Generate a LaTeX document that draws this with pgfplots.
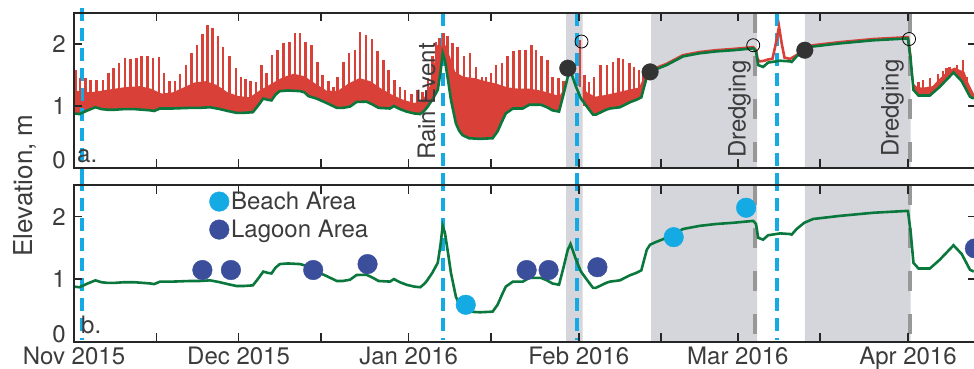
\documentclass[border=0pt]{standalone}
\usepackage{fontspec}
\setmainfont{TeX Gyre Heros}
\usepackage{pgfplots}
\pgfplotsset{compat=1.18}
\usepgfplotslibrary{fillbetween}
\usepackage{pgfplotstable}

\definecolor{tred}{RGB}{216,64,56}
\definecolor{tgreen}{RGB}{10,120,60}
\definecolor{lblue}{RGB}{20,170,228}
\definecolor{shade}{RGB}{212,214,220}
\definecolor{dgray}{RGB}{152,152,152}
\definecolor{dotc}{RGB}{51,51,51}
\definecolor{navy}{RGB}{58,78,156}
\definecolor{txt}{RGB}{60,60,60}
\definecolor{axcol}{RGB}{38,38,38}

\pgfplotstableread{
d v
0 0.88
1.0 0.87
2.5 0.93
3.9 0.98
5.0 0.95
6.1 0.94
7.5 0.94
9.1 0.95
11 0.95
12.5 0.94
13.9 0.93
14.6 0.92
15.7 0.96
18 0.96
21.2 0.97
23 0.97
24.8 0.98
26.6 0.95
28 0.92
29.6 0.89
31 0.89
32.6 0.90
33.5 1.00
34.5 1.12
35.3 1.10
36.0 1.09
36.7 1.18
37.5 1.24
39 1.25
41.2 1.24
42.0 1.22
42.7 1.16
44.2 1.12
46 1.05
47.9 0.97
49 0.97
50.3 0.99
51.5 1.065
53.3 1.07
54.5 1.02
55.5 0.97
57.6 0.96
58.3 1.00
59.4 0.95
60.6 0.91
62 0.88
63.1 0.87
63.8 0.92
64.3 0.97
65.3 1.10
66.3 1.26
66.8 1.55
67.2 1.85
67.6 1.74
68.2 1.40
68.7 1.10
69.6 0.72
70.2 0.60
70.8 0.53
72 0.48
74 0.47
76.3 0.48
77.2 0.59
78.0 0.75
78.7 0.88
80.0 0.96
81.8 0.96
82.4 0.99
83 1.02
85.1 1.02
86.2 0.98
87.2 0.93
88.4 0.91
89.2 1.18
90.0 1.47
90.5 1.56
91.5 1.31
92.4 1.12
93.9 0.94
94.6 0.86
95.1 0.86
97.0 0.94
97.7 0.96
99.5 0.98
101.3 1.06
102.5 1.10
103.4 1.14
104.4 1.47
105 1.55
106 1.59
108.0 1.66
111.0 1.80
114 1.85
117 1.88
120.2 1.90
123.8 1.93
124.3 1.88
124.7 1.66
125.6 1.63
126.5 1.70
128.7 1.73
130.5 1.72
130.8 1.71
131.7 1.80
133.1 1.90
134.7 1.96
139.6 2.01
145.7 2.06
152.0 2.09
152.5 1.74
153.0 1.26
153.9 1.17
156 1.17
157.8 1.31
160.3 1.54
161.8 1.40
163.3 1.15
164 1.12
}\green

\pgfplotstableread{
d v
0 1.25
3 1.22
6 1.26
9 1.30
12 1.32
14 1.28
16 1.20
18 1.22
20 1.30
22 1.38
24 1.40
26 1.34
28 1.22
30 1.16
32 1.14
34 1.26
36 1.36
38 1.46
40 1.52
42 1.48
44 1.36
46 1.25
48 1.24
50 1.36
52 1.45
54 1.40
56 1.28
58 1.18
60 1.10
62 1.05
63.5 1.08
65 1.35
65.5 1.60
66.2 1.98
67.5 2.02
68.5 1.80
69.5 1.55
71 1.47
73 1.45
75 1.40
77 1.36
79 1.30
81 1.28
83 1.28
85 1.25
87 1.20
88.5 1.16
89.3 1.28
90.0 1.56
90.5 1.62
91.5 1.48
92.4 1.34
93.5 1.22
95 1.15
97 1.18
99 1.22
101 1.26
103 1.30
104 1.50
104.6 1.56
}\masstop

\pgfplotstableread{
d v
152.6 1.75
153.1 1.35
153.8 1.30
155 1.30
156.5 1.32
157.5 1.42
158.5 1.50
159.5 1.58
160.5 1.62
161.5 1.58
162.3 1.55
163 1.38
164 1.20
}\masstopb

\pgfplotstableread{
d v
104.6 1.56
106 1.61
108 1.68
111 1.82
114 1.87
117 1.90
120.2 1.92
123.8 1.95
124.3 1.90
124.6 1.75
125.0 1.72
125.8 1.73
126.5 1.75
127.3 1.76
127.9 2.00
128.5 2.28
129.0 2.00
129.5 1.78
130.5 1.76
131.7 1.82
133.1 1.92
134.7 1.98
139.6 2.03
145.7 2.08
152.0 2.11
152.5 1.76
}\redline

\pgfplotstableread{
d t l
0.3 1.58 1.0
1.1 1.45 1.0
2.1 1.45 1.0
3.0 1.42 1.05
4.1 1.42 1.05
5.3 1.42 1.05
6.3 1.53 1.05
7.2 1.61 1.05
8.2 1.69 1.05
9.3 1.78 1.05
10.3 1.75 1.05
11.4 1.77 1.05
12.3 1.80 1.05
13.4 1.80 1.05
14.4 1.77 1.05
15.5 1.79 1.05
16.4 1.53 1.05
17.4 1.41 1.05
18.4 1.40 1.05
19.3 1.52 1.05
20.4 1.66 1.05
21.4 1.85 1.05
22.4 1.98 1.05
23.4 2.16 1.05
24.3 2.31 1.05
25.2 2.25 1.05
26.2 2.13 1.05
27.2 1.95 1.0
28.3 1.80 1.0
29.5 1.62 1.0
30.4 1.47 1.0
31.3 1.43 1.0
32.2 1.41 1.0
33.2 1.39 1.05
34.2 1.66 1.15
35.1 1.53 1.15
36.1 1.82 1.2
37.1 1.90 1.3
38.2 2.01 1.3
39.3 2.04 1.3
40.3 2.17 1.3
41.2 2.17 1.3
42.2 2.03 1.3
43.3 1.98 1.2
44.4 1.71 1.15
45.3 1.50 1.1
46.4 1.41 1.1
47.3 1.31 1.05
48.0 1.47 1.05
49.1 1.71 1.05
50.1 1.85 1.05
51.2 1.90 1.1
52.1 2.20 1.1
53.2 2.15 1.1
54.3 2.08 1.1
55.3 1.88 1.05
56.4 1.74 1.05
57.3 1.58 1.05
58.4 1.42 1.05
59.4 1.31 1.0
60.3 1.25 0.95
61.5 1.20 0.95
62.5 1.25 0.95
63.5 1.22 0.95
64.5 1.45 1.0
65.3 1.80 1.2
66.0 2.04 1.4
66.6 2.10 1.6
67.3 2.17 1.8
68.1 2.13 1.5
69.0 2.01 1.2
69.9 1.95 1.0
71.1 1.80 0.9
72.2 1.86 0.9
73.3 1.63 0.9
74.4 1.47 0.9
75.1 1.47 0.9
76.0 1.53 0.9
76.9 1.66 0.9
78.0 1.69 1.0
79.0 1.80 1.05
80.1 1.88 1.05
81.2 1.90 1.05
82.3 1.91 1.05
83.4 1.98 1.1
84.2 1.90 1.1
85.2 1.80 1.1
86.3 1.74 1.05
87.2 1.47 1.0
88.3 1.45 1.0
89.2 1.40 1.2
92.2 2.06 1.3
93.0 1.50 1.0
93.9 1.39 0.95
94.8 1.47 0.95
96.0 1.66 1.0
97.1 1.66 1.0
98.2 1.71 1.05
99.2 1.78 1.05
100.1 1.75 1.05
101.2 1.69 1.1
102.1 1.63 1.15
103.0 1.58 1.18
103.8 1.52 1.3
153.9 1.39 1.22
154.7 1.42 1.22
156.0 1.45 1.22
157.5 1.52 1.35
158.4 1.56 1.42
159.0 1.61 1.45
159.6 1.63 1.5
160.9 1.66 1.55
162.0 1.74 1.45
162.7 1.47 1.3
}\spikes

\begin{document}
\begin{tikzpicture}
\pgfplotsset{
  base/.style={
    scale only axis, width=902bp, anchor=south west,
    xmin=0, xmax=164.4, ymin=0, ymax=2.5,
    xtick={0,30,61,92,121,152}, minor xtick={15,45,76,107,136},
    ytick={1,2}, extra y ticks={0},
    extra y tick style={yticklabel style={yshift=8bp}},
    major tick length=8.5bp, minor tick length=8.5bp,
    tick style={line width=1.5bp, color=axcol},
    axis line style={line width=1.8bp, color=axcol},
    ticklabel style={font=\fontsize{24bp}{28bp}\selectfont, text=txt},
    yticklabel style={inner sep=1bp, xshift=-7bp},
    xticklabel style={yshift=-2bp},
    /pgf/number format/assume math mode=true,
    clip=false, axis on top,
  },
  shadeplot/.style={fill=shade, draw=none, forget plot},
  bluel/.style={color=lblue, line width=4bp, dash pattern=on 13bp off 7bp, forget plot},
  grayl/.style={color=dgray, line width=4bp, dash pattern=on 20bp off 23bp, forget plot},
}
% ---------------- top panel ----------------
\begin{axis}[base, at={(74bp,201bp)}, height=155bp, xticklabels={}]
\addplot[shadeplot] coordinates {(89.7,0) (89.7,2.5) (92.7,2.5) (92.7,0)} \closedcycle;
\addplot[shadeplot] coordinates {(105.2,0) (105.2,2.5) (124.5,2.5) (124.5,0)} \closedcycle;
\addplot[shadeplot] coordinates {(133.2,0) (133.2,2.5) (152.5,2.5) (152.5,0)} \closedcycle;
\addplot[bluel] coordinates {(1.4,2.58) (1.4,-0.16)};
\addplot[bluel] coordinates {(67.2,2.5) (67.2,-0.16)};
\addplot[bluel] coordinates {(91.6,2.5) (91.6,-0.16)};
\addplot[bluel] coordinates {(128.2,2.5) (128.2,-0.16)};
\addplot[grayl] coordinates {(124.1,2.5) (124.1,0)};
\addplot[grayl] coordinates {(152.3,2.5) (152.3,0)};
\addplot[draw=none, name path=G, forget plot] table[x=d, y=v] {\green};
\addplot[draw=none, name path=M, forget plot] table[x=d, y=v] {\masstop};
\addplot[draw=none, name path=M2, forget plot] table[x=d, y=v] {\masstopb};
\addplot[fill=tred, draw=none, forget plot] fill between[of=M and G, soft clip={domain=0:104.6}];
\addplot[fill=tred, draw=none, forget plot] fill between[of=M2 and G, soft clip={domain=152.6:164}];
\addplot[draw=none, mark=none, forget plot,
  error bars/.cd, y dir=minus, y explicit, error mark=none,
  error bar style={color=tred, line width=2.5bp}]
  table[x=d, y=t, y error minus expr=\thisrow{t}-\thisrow{l}] {\spikes};
\addplot[tred, line width=2.6bp, forget plot] table[x=d, y=v] {\redline};
\addplot[tgreen, line width=2.6bp, forget plot] table[x=d, y=v] {\green};
\addplot[only marks, mark=*, mark size=8.3bp, color=dotc, forget plot]
  coordinates {(90.0,1.61) (105.0,1.55) (133.2,1.90)};
\addplot[only marks, mark=o, mark size=6.5bp, color=black, line width=0.8bp, forget plot]
  coordinates {(92.5,2.04) (123.8,1.98) (152.2,2.08)};
\end{axis}
% ---------------- bottom panel ----------------
\begin{axis}[base, at={(74bp,27.3bp)}, height=156.5bp,
  xticklabels={Nov 2015, Dec 2015, Jan 2016, Feb 2016, Mar 2016, Apr 2016},
  legend style={draw=none, fill=none, at={(0.150,0.97)}, anchor=north west,
    font=\fontsize{24bp}{28bp}\selectfont, text=txt, inner sep=0pt, row sep=5bp,
    nodes={inner sep=2bp}},
  legend cell align=left,
  legend image code/.code={\draw[#1] plot coordinates {(0bp,0bp)};}]
\addplot[shadeplot] coordinates {(89.7,0) (89.7,2.5) (92.7,2.5) (92.7,0)} \closedcycle;
\addplot[shadeplot] coordinates {(105.2,0) (105.2,2.5) (124.5,2.5) (124.5,0)} \closedcycle;
\addplot[shadeplot] coordinates {(133.2,0) (133.2,2.5) (152.5,2.5) (152.5,0)} \closedcycle;
\addplot[bluel] coordinates {(1.4,2.61) (1.4,0.02)};
\addplot[bluel] coordinates {(67.2,2.61) (67.2,0.02)};
\addplot[bluel] coordinates {(91.6,2.61) (91.6,0.02)};
\addplot[bluel] coordinates {(128.2,2.61) (128.2,0.02)};
\addplot[grayl] coordinates {(124.1,2.5) (124.1,0)};
\addplot[grayl] coordinates {(152.3,2.5) (152.3,0)};
\addplot[tgreen, line width=2.6bp, forget plot] table[x=d, y=v] {\green};
\addplot[only marks, mark=*, mark size=9.8bp, color=lblue]
  coordinates {(71.4,0.59) (109.3,1.67) (122.5,2.14)};
\addlegendentry{Beach Area}
\addplot[only marks, mark=*, mark size=9.8bp, color=navy]
  coordinates {(23.4,1.145) (28.6,1.145) (43.6,1.145) (53.5,1.24) (82.5,1.145) (86.5,1.145) (95.4,1.19) (164.2,1.49)};
\addlegendentry{Lagoon Area}
\end{axis}
% ---------------- texts ----------------
\begin{scope}[every node/.style={text=txt, font=\fontsize{24bp}{28bp}\selectfont, inner sep=0pt}]
\node[anchor=base west] at (77bp,206bp) {a.};
\node[anchor=base west] at (81bp,36bp) {b.};
\node[rotate=90, anchor=base west] at (435bp,209bp) {Rain Event};
\node[rotate=90, anchor=base west] at (745.5bp,211bp) {Dredging};
\node[rotate=90, anchor=base west] at (898.5bp,212bp) {Dredging};
\node[rotate=90, anchor=base, font=\fontsize{26bp}{30bp}\selectfont] at (32bp,183.5bp) {Elevation, m};
\end{scope}
\pgfresetboundingbox
\path[use as bounding box] (0,0) rectangle (974bp,369bp);
\end{tikzpicture}
\end{document}
